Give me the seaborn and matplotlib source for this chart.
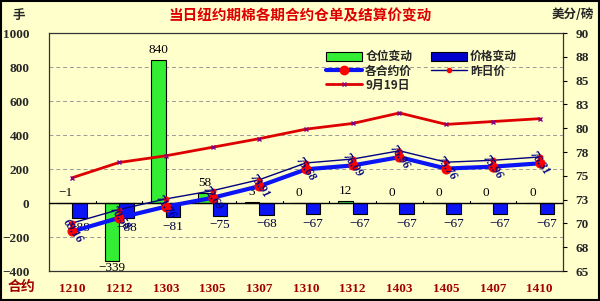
import numpy as np
import pandas as pd
import matplotlib
matplotlib.use("Agg")
import matplotlib.pyplot as plt
from matplotlib.ticker import FuncFormatter, FixedLocator
from matplotlib.lines import Line2D
from matplotlib.patches import Patch
import seaborn as sns

# ---------------- data ----------------
categories = ["1210", "1212", "1303", "1305", "1307", "1310", "1312", "1403", "1405", "1407", "1410"]
position_change = [-1, -339, 840, 58, 3, 0, 12, 0, 0, 0, 0]          # 仓位变动 (手)
price_change = [-88, -88, -81, -75, -68, -67, -67, -67, -67, -67, -67]  # 价格变动
contract_price = [69.16, 70.58, 71.76, 72.69, 73.91, 75.68, 76.09, 76.96, 75.76, 75.96, 76.31]  # 各合约价
prev_price = [70.04, 71.46, 72.57, 73.44, 74.59, 76.35, 76.76, 77.63, 76.43, 76.63, 76.98]      # 昨日价
sep19_price = [74.8, 76.4, 77.1, 78.0, 78.9, 79.9, 80.5, 81.6, 80.4, 80.7, 81.0]               # 9月19日
left_ticks = [-400, -200, 0, 200, 400, 600, 800, 1000]
right_ticks = [65, 67.5, 70, 72.5, 75, 77.5, 80, 82.5, 85, 87.5, 90]

title = "当日纽约期棉各期合约仓单及结算价变动"
series_names = ["仓位变动", "价格变动", "各合约价", "昨日价", "9月19日"]

# ---------------- style ----------------
sns.set_theme(style="white")
plt.rcParams["font.family"] = ["Noto Sans CJK SC", "DejaVu Sans"]
plt.rcParams["axes.unicode_minus"] = True

BG = "#FFFFCC"
GREEN = "#33EE33"
BLUE = "#0A14F5"
NAVY = "#000080"
RED = "#DD0000"
DARKRED = "#A00000"
SERIF = ["Liberation Serif", "DejaVu Serif"]

fig = plt.figure(figsize=(6.0, 3.01), dpi=100, facecolor=BG)
ax = fig.add_axes([49 / 600, 1 - 271 / 301, (563 - 49) / 600, (271 - 33) / 301])
ax.set_facecolor(BG)

df = pd.DataFrame({
    "cat": categories * 2,
    "value": position_change + price_change,
    "series": [series_names[0]] * len(categories) + [series_names[1]] * len(categories),
})
sns.barplot(data=df, x="cat", y="value", hue="series", order=categories,
            hue_order=series_names[:2], palette=[GREEN, BLUE], width=0.62,
            saturation=1, edgecolor="black", linewidth=0.8, legend=False, ax=ax)

ax.set_ylim(-400, 1000)
ax.set_xlim(-0.5, len(categories) - 0.5)
ax.yaxis.set_major_locator(FixedLocator(left_ticks))
ax.yaxis.set_major_formatter(FuncFormatter(lambda v, p: f"{int(v)}".replace("-", "\u2212")))
for v in left_ticks:
    if v not in (0, -400, 1000):
        ax.axhline(v, color="#999999", lw=0.7, ls=(0, (4, 3)), zorder=0)
ax.axhline(0, color="black", lw=1.0, zorder=3)
# category boundary ticks on the zero line
xpos = np.arange(len(categories))
for b in xpos[:-1] + 0.5:
    ax.plot([b, b], [0, 14], color="black", lw=0.8, zorder=3)

ax.set_xlabel("")
ax.set_ylabel("")
ax.set_xticks(xpos)
ax.set_xticklabels(categories, fontfamily=SERIF, fontweight="bold", color=DARKRED, fontsize=9.5)
ax.tick_params(axis="x", length=0, pad=9)
ax.tick_params(axis="y", length=0, pad=14, labelsize=9.5)
for lab in ax.get_yticklabels():
    lab.set_fontfamily(SERIF)
    lab.set_fontweight("bold")
for s in ax.spines.values():
    s.set_color("#333333")
    s.set_linewidth(0.9)

# bar labels
green_bars = ax.containers[0]
blue_bars = ax.containers[1]
for rect, v in zip(green_bars, position_change):
    cx = rect.get_x() + rect.get_width() / 2
    if v >= -5:
        ax.text(cx, max(v, 0) + 25, f"{v}".replace("-", "\u2212"), ha="center", va="bottom",
                fontsize=9.5, fontfamily=SERIF, color="black", zorder=6)
    else:
        ax.text(cx, v - 10, f"{v}".replace("-", "\u2212"), ha="center", va="top",
                fontsize=9.5, fontfamily=SERIF, color="black", zorder=6)
for rect, v in zip(blue_bars, price_change):
    cx = rect.get_x() + rect.get_width() / 2
    ax.text(cx, v - 22, f"{v}".replace("-", "\u2212"), ha="center", va="top",
            fontsize=9.5, fontfamily=SERIF, color="#000040", zorder=6)

# ---------------- right axis lines ----------------
ax2 = ax.twinx()
ax2.set_ylim(65, 90)
sns.lineplot(x=xpos, y=sep19_price, ax=ax2, color=RED, lw=2, marker="x",
             markersize=3.5, markeredgecolor="#800080", markeredgewidth=1.0, zorder=4)
sns.lineplot(x=xpos, y=prev_price, ax=ax2, color=NAVY, lw=1, marker="o",
             markersize=3.5, markerfacecolor="#FF0000", markeredgecolor="#FF0000", zorder=5)
sns.lineplot(x=xpos, y=contract_price, ax=ax2, color=BLUE, lw=3, marker="o",
             markersize=6.5, markerfacecolor="#FF0000", markeredgecolor="#FF0000", zorder=6)
for x, v in zip(xpos, contract_price):
    ax2.text(x, v, f"{v:.2f}", rotation=-55, ha="center", va="center", fontsize=8.5,
             fontfamily=SERIF, fontweight="bold", fontstyle="italic", color=NAVY, zorder=7)

ax2.yaxis.set_major_locator(FixedLocator(right_ticks))
ax2.yaxis.set_major_formatter(FuncFormatter(lambda v, p: f"{int(v + 0.5)}"))
ax2.tick_params(axis="y", length=3, width=0.8, color="black", pad=6, labelsize=9.5, right=True)
for lab in ax2.get_yticklabels():
    lab.set_fontfamily(SERIF)
    lab.set_fontweight("bold")
ax2.set_ylabel("")
ax2.grid(False)
for s in ax2.spines.values():
    s.set_visible(False)
ax2.set_xlim(-0.5, len(categories) - 0.5)

# ---------------- texts ----------------
fig.text(0.5, 1 - 15 / 301, title, ha="center", va="center", color=RED, fontsize=10.5, fontweight="bold")
fig.text(12 / 600, 1 - 15 / 301, "手", ha="left", va="center", fontsize=9, fontweight="bold")
fig.text(594 / 600, 1 - 15 / 301, "美分/磅", ha="right", va="center", fontsize=9, fontweight="bold")
fig.text(22 / 600, 1 - 287 / 301, "合约", ha="center", va="center", fontsize=10, fontweight="bold", color=DARKRED)

# ---------------- legend (row-wise order) ----------------
h_green = Patch(facecolor=GREEN, edgecolor="black", linewidth=0.8)
h_blue = Patch(facecolor="#0000CC", edgecolor="black", linewidth=0.8)
h_cur = Line2D([], [], color=BLUE, lw=3, marker="o", markersize=6, markerfacecolor="#FF0000", markeredgecolor="#FF0000")
h_prev = Line2D([], [], color=NAVY, lw=1, marker="o", markersize=3, markerfacecolor="#FF0000", markeredgecolor="#FF0000")
h_sep = Line2D([], [], color=RED, lw=2, marker="x", markersize=3.5, markeredgecolor="#800080")
handles = [h_green, h_cur, h_sep, h_blue, h_prev]
labels = [series_names[0], series_names[2], series_names[4], series_names[1], series_names[3]]
fig.legend(handles, labels, ncol=2, loc="upper left",
           bbox_to_anchor=(318 / 600, 1 - 42 / 301), frameon=False,
           prop={"size": 8.5, "weight": "bold"}, handlelength=3.0, handleheight=0.8,
           labelspacing=0.1, columnspacing=1.6, handletextpad=0.3, borderpad=0.2)

# figure border
fig.add_artist(plt.Rectangle((0.002, 0.003), 0.996, 0.994, transform=fig.transFigure,
                             fill=False, edgecolor="black", linewidth=1.5))

fig.savefig("out.png", dpi=100, facecolor=BG)
